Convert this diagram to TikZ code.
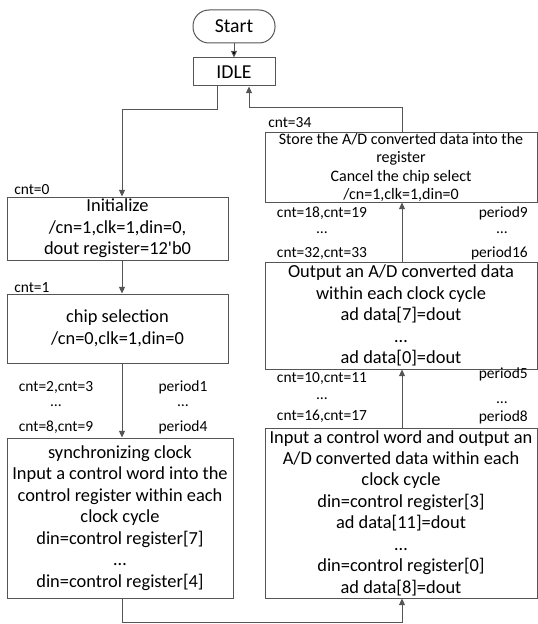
\documentclass[tikz,border=0pt]{standalone}
\usepackage{fontspec}
\setmainfont{Carlito}
\usetikzlibrary{arrows.meta}
\definecolor{linegray}{RGB}{85,85,85}

\begin{document}
\begin{tikzpicture}[x=0.75pt,y=-0.75pt,
        box/.style={draw=linegray,line width=0.75pt,align=center,inner sep=0pt,font=\fontsize{13.8}{16.1}\selectfont},
        tag/.style={inner sep=0pt,font=\fontsize{11.6}{13}\selectfont},
        flow/.style={draw=linegray,line width=0.75pt,-{Triangle[length=5pt,width=4.5pt]}},
        link/.style={draw=linegray,line width=0.75pt}]
        \useasboundingbox (0,0) rectangle (538,624);

        % left column
        \node[box,font=\fontsize{14.8}{16}\selectfont,rounded corners=12pt,minimum width=61.5pt,minimum height=24.75pt] (start) at (234,26.5) {Start};
        \node[box,font=\fontsize{14.8}{16}\selectfont,minimum width=61.5pt,minimum height=21pt] (idle) at (234,72) {IDLE};
        \node[box,minimum width=165.75pt,minimum height=47.25pt] (init) at (117.5,228.5) {Initialize\\/cn=1,clk=1,din=0,\\dout register=12\textquotesingle b0};
        \node[box,minimum width=165.75pt,minimum height=51.75pt] (chip) at (117.5,328.5) {chip selection\\/cn=0,clk=1,din=0};
        \node[box,minimum width=169.5pt,minimum height=120pt] (sync) at (120,518) {synchronizing clock\\Input a control word into the\\control register within each\\clock cycle\\din=control register[7]\\\dots\\din=control register[4]};

        % right column
        \node[box,font=\fontsize{12}{13.9}\selectfont,minimum width=204pt,minimum height=51.75pt] (store) at (401,167.5) {Store the A/D converted data into the\\register\\Cancel the chip select\\/cn=1,clk=1,din=0};
        \node[box,minimum width=204pt,minimum height=80.25pt] (output) at (401,315.5) {Output an A/D converted data\\within each clock cycle\\ad data[7]=dout\\\dots\\ad data[0]=dout};
        \node[box,minimum width=204pt,minimum height=127.5pt] (input) at (401,513) {Input a control word and output an\\A/D converted data within each\\clock cycle\\din=control register[3]\\ad data[11]=dout\\\dots\\din=control register[0]\\ad data[8]=dout};

        % counter and period labels
        \node[tag,anchor=west] (cnt0) at (14,190) {cnt=0};
        \node[tag,anchor=west] (cnt1) at (14,288) {cnt=1};
        \node[tag] (cnt2) at (56,387) {cnt=2,cnt=3};
        \node[tag] (cntdots1) at (56,406) {\dots};
        \node[tag] (cnt8) at (56,427) {cnt=8,cnt=9};
        \node[tag] (per1) at (183,387) {period1};
        \node[tag] (perdots1) at (183,406) {\dots};
        \node[tag] (per4) at (183,427) {period4};

        \node[tag,anchor=west] (cnt34) at (268,123) {cnt=34};
        \node[tag] (cnt18) at (322,213) {cnt=18,cnt=19};
        \node[tag] (cntdots2) at (322,233) {\dots};
        \node[tag] (cnt32) at (322,253) {cnt=32,cnt=33};
        \node[tag,anchor=east] (per9) at (528,213) {period9};
        \node[tag] (perdots2) at (502,233) {\dots};
        \node[tag,anchor=east] (per16) at (528,253) {period16};

        \node[tag] (cnt10) at (322,378) {cnt=10,cnt=11};
        \node[tag] (cntdots3) at (322,399) {\dots};
        \node[tag] (cnt16) at (322,416) {cnt=16,cnt=17};
        \node[tag,anchor=east] (per5) at (528,374) {period5};
        \node[tag] (perdots3) at (502,403) {\dots};
        \node[tag,anchor=east] (per8) at (528,417) {period8};

        % turning points
        \coordinate (j1) at (217,110);
        \coordinate (j2) at (122,110);
        \coordinate (j3) at (402,108);
        \coordinate (j4) at (249,108);
        \coordinate (j5) at (122,622);
        \coordinate (j6) at (402,622);

        \path[flow] (start) edge (idle);
        \draw[flow] (idle.south -| j1) |- (j2) -- (init.north -| j2);
        \draw[flow] (init.south -| j2) -- (chip.north -| j2);
        \draw[flow] (chip.south -| j2) -- (sync.north -| j2);
        \draw[flow] (sync.south -| j5) -- (j5) -- (j6) -- (input.south -| j6);
        \draw[flow] (input.north -| j6) -- (output.south -| j6);
        \draw[flow] (output.north -| j6) -- (store.south -| j6);
        \draw[flow] (store.north -| j3) |- (j4) -- (idle.south -| j4);
\end{tikzpicture}
\end{document}
